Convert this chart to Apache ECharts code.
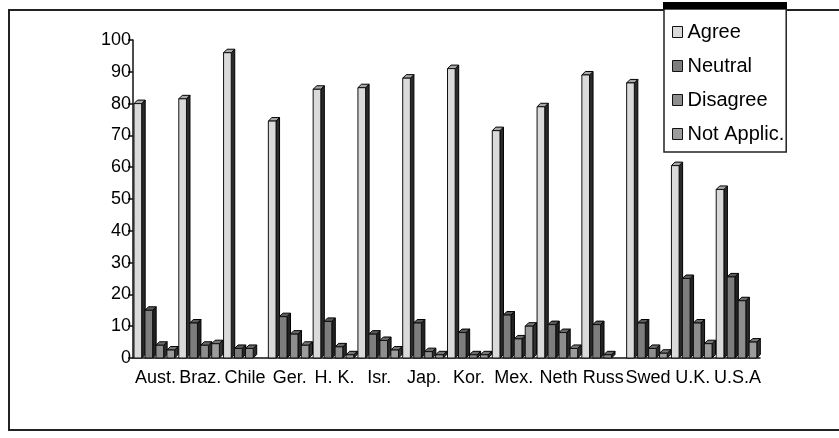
<!DOCTYPE html>
<html>
<head>
<meta charset="utf-8">
<script src="https://cdn.jsdelivr.net/npm/echarts@6/dist/echarts.min.js"></script>
<style>html,body{margin:0;padding:0;background:#fff;}#c{width:839px;height:438px;}</style>
</head>
<body>
<div id="c"></div>
<script>
var categories = ['Aust.','Braz.','Chile','Ger.','H. K.','Isr.','Jap.','Kor.','Mex.','Neth','Russ','Swed','U.K.','U.S.A'];
var seriesNames = ['Agree','Neutral','Disagree','Not Applic.'];
var agree     = [80, 81.5, 96, 74.5, 84.5, 85, 88, 91, 71.5, 79, 89, 86.5, 60.5, 53];
var neutral   = [15, 11, 3, 13, 11.5, 7.5, 11, 8, 13.5, 10.5, 10.5, 11, 25, 25.5];
var disagree  = [4, 4, 3, 7.5, 3.5, 5.5, 2, 1, 6, 8, 1, 3, 11, 18];
var notApplic = [2.5, 4.5, 0, 4, 1, 2.5, 1, 1, 10, 3, 0, 1.5, 4.5, 5];
var yTicks = [0,10,20,30,40,50,60,70,80,90,100];

var allValues = [agree, neutral, disagree, notApplic];
var frontColors = ['#dadada', '#7d7d7d', '#8e8e8e', '#9c9c9c'];
var topColors   = ['#a8a8a8', '#5a5a5a', '#6a6a6a', '#777777'];
var sideColors  = ['#2a2a2a', '#222222', '#2a2a2a', '#333333'];
var FONT = 'Liberation Sans, Arial, sans-serif';

function makeRender(s) {
  return function (params, api) {
    var v = api.value(1);
    if (!v) return null;
    var top = api.coord([api.value(0), v]);
    var base = api.coord([api.value(0), 0]);
    var band = api.size([1, 0])[0];
    var pitch = band * 0.245;
    var w = pitch * 0.7;
    var d = pitch * 0.32;
    var x0 = top[0] - band / 2 + 1 + s * pitch;
    var yT = top[1], yB = base[1];
    return {
      type: 'group',
      children: [
        { type: 'polygon', shape: { points: [[x0 + w, yT], [x0 + w + d, yT - d], [x0 + w + d, yB - d], [x0 + w, yB]] },
          style: { fill: sideColors[s], stroke: '#000', lineWidth: 1 } },
        { type: 'polygon', shape: { points: [[x0, yT], [x0 + w, yT], [x0 + w + d, yT - d], [x0 + d, yT - d]] },
          style: { fill: topColors[s], stroke: '#000', lineWidth: 1 } },
        { type: 'rect', shape: { x: x0, y: yT, width: w, height: yB - yT },
          style: { fill: frontColors[s], stroke: '#111', lineWidth: 1 } }
      ]
    };
  };
}

var series = seriesNames.map(function (name, s) {
  return {
    type: 'custom',
    name: name,
    renderItem: makeRender(s),
    itemStyle: { color: frontColors[s], borderColor: '#111', borderWidth: 1 },
    encode: { x: 0, y: 1 },
    data: allValues[s].map(function (v, i) { return [i, v]; }),
    z: 10
  };
});

var chart = echarts.init(document.getElementById('c'));
chart.setOption({
  animation: false,
  backgroundColor: '#fff',
  textStyle: { fontFamily: FONT },
  grid: { left: 133, right: 79, top: 40, bottom: 80 },
  xAxis: {
    type: 'category',
    data: categories,
    axisLine: { show: true, lineStyle: { color: '#111', width: 1.5 } },
    axisTick: { show: false },
    axisLabel: { interval: 0, color: '#000', fontSize: 18, margin: 11, fontFamily: FONT },
    splitLine: { show: false }
  },
  yAxis: {
    type: 'value',
    min: yTicks[0],
    max: yTicks[yTicks.length - 1],
    interval: 10,
    axisLine: { show: true, lineStyle: { color: '#111', width: 1.5 } },
    axisTick: { show: true, length: 5, lineStyle: { color: '#111', width: 1.5 } },
    axisLabel: { color: '#000', fontSize: 18, margin: 2, fontFamily: FONT },
    splitLine: { show: false }
  },
  legend: {
    left: 664,
    top: 9,
    width: 122,
    height: 142,
    orient: 'vertical',
    padding: [13, 2, 8, 8],
    itemGap: 14,
    itemWidth: 10,
    itemHeight: 11,
    icon: 'rect',
    borderColor: '#222',
    borderWidth: 1.5,
    backgroundColor: '#fff',
    textStyle: { color: '#000', fontSize: 20, lineHeight: 20, fontFamily: FONT },
    itemStyle: { borderColor: '#111', borderWidth: 1 },
    data: seriesNames
  },
  graphic: [
    { type: 'line', shape: { x1: 8, y1: 10, x2: 839, y2: 10 }, style: { stroke: '#222', lineWidth: 2 }, z: 1 },
    { type: 'line', shape: { x1: 9, y1: 10, x2: 9, y2: 430 }, style: { stroke: '#222', lineWidth: 2 }, z: 1 },
    { type: 'line', shape: { x1: 8, y1: 430, x2: 839, y2: 430 }, style: { stroke: '#222', lineWidth: 2 }, z: 1 },
    { type: 'rect', shape: { x: 663, y: 2, width: 124, height: 7 }, style: { fill: '#000' }, z: 100 }
  ],
  series: series
});
</script>
</body>
</html>
